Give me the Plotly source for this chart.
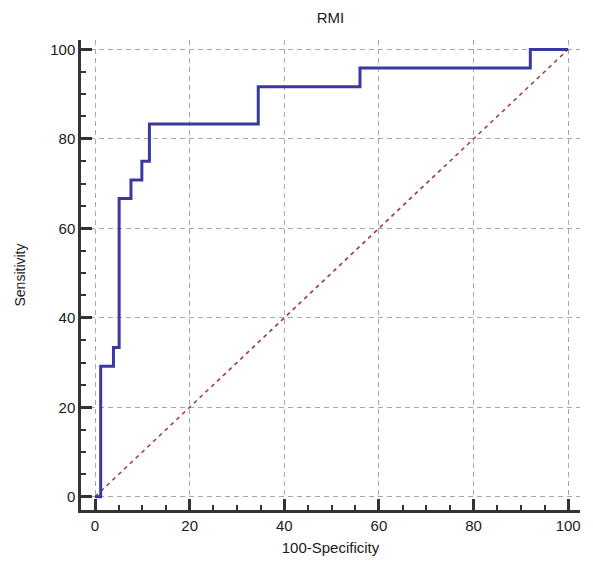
import plotly.graph_objects as go

# ROC curve data (100-Specificity vs Sensitivity)
fpr = [0, 1.2, 3.9, 5.1, 7.6, 9.9, 11.5, 34.5, 56.0, 92.0, 100]
tpr = [0, 29.17, 33.33, 66.67, 70.83, 75.0, 83.33, 91.67, 95.83, 100, 100]

diag_x = [0, 100]
diag_y = [0, 100]

tick_vals = [0, 20, 40, 60, 80, 100]
tick_text = ["0", "20", "40", "60", "80", "100"]

FONT = "Liberation Sans, Arial, sans-serif"

fig = go.Figure()

fig.add_trace(go.Scatter(
    x=diag_x, y=diag_y, mode="lines",
    line=dict(color="#a33a3a", width=1.6, dash="4px,4px"),
    showlegend=False, hoverinfo="skip"))

fig.add_trace(go.Scatter(
    x=fpr, y=tpr, mode="lines", line_shape="hv",
    line=dict(color="#3a3a9e", width=3),
    showlegend=False))

axis_common = dict(
    automargin=False,
    showline=True, linewidth=2.5, linecolor="#333333", mirror=False,
    ticks="inside", ticklen=11, tickwidth=2.5, tickcolor="#333333",
    tickvals=tick_vals, ticktext=tick_text,
    showgrid=True, gridcolor="#a8a8a8", gridwidth=1, griddash="5px,4px",
    zeroline=False,
    minor=dict(ticks="inside", ticklen=5, tickwidth=1.5, tickcolor="#333333",
               dtick=5, tick0=0, showgrid=False),
    tickfont=dict(family=FONT, size=15, color="#1a1a1a"),
)

fig.update_xaxes(range=[-2.96, 102.5],
                 title=dict(text="100-Specificity",
                            font=dict(family=FONT, size=15, color="#1a1a1a"),
                            standoff=10),
                 **axis_common)
fig.update_yaxes(range=[-2.97, 102.1],
                 title=dict(text="Sensitivity",
                            font=dict(family=FONT, size=14, color="#1a1a1a"),
                            standoff=22),
                 **axis_common)

fig.update_layout(
    width=593, height=562,
    margin=dict(l=81, r=13, t=40, b=52, autoexpand=False),
    paper_bgcolor="white", plot_bgcolor="white",
    title=dict(text="RMI", x=0.5, xref="paper", xanchor="center",
               y=1 - 17.5 / 562, yanchor="middle",
               font=dict(family=FONT, size=15, color="#1a1a1a")),
)

fig.write_html(
    "out.html",
    config={"displayModeBar": False},
    post_script="document.body.style.margin='0';document.body.style.overflow='hidden';",
)
